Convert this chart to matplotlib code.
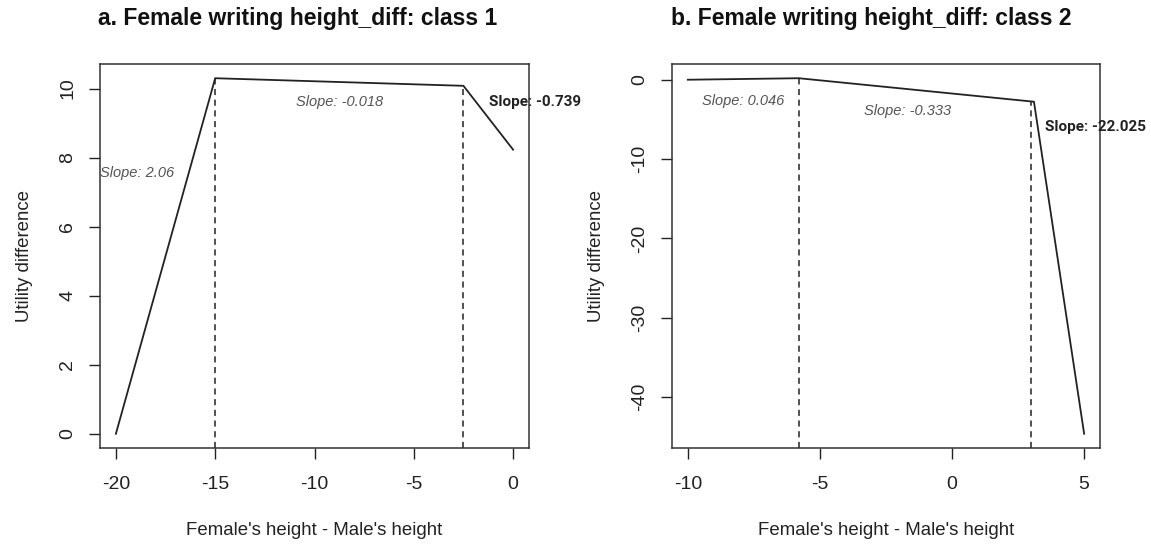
import matplotlib
matplotlib.use("Agg")
from matplotlib import pyplot as plt

plt.rcParams['font.family'] = ['Liberation Sans', 'DejaVu Sans']
plt.rcParams['axes.unicode_minus'] = False

# panel a: class 1
x_a = [-20, -15, -2.5, 0]
y_a = [0, 10.3, 10.08, 8.23]
knots_a = [-15, -2.5]
xticks_a = [-20, -15, -10, -5, 0]
yticks_a = [0, 2, 4, 6, 8, 10]

# panel b: class 2
x_b = [-10, -5.8, 3.1, 5]
y_b = [0, 0.19, -2.77, -44.6]
knots_b = [-5.8, 3.0]
xticks_b = [-10, -5, 0, 5]
yticks_b = [0, -10, -20, -30, -40]

titles = ["Female writing height_diff: class 1", "Female writing height_diff: class 2"]
letters = ["a.", "b."]


def r_limits(vals):
    lo, hi = min(vals), max(vals)
    pad = (hi - lo) * 0.04
    return lo - pad, hi + pad


def draw_panel(ax, xs, ys, knots, xticks, yticks):
    ax.plot(xs, ys, color='#222222', lw=1.3)
    ax.set_xlim(*r_limits(xs))
    ylo, yhi = r_limits(ys)
    ax.set_ylim(ylo, yhi)
    for k in knots:
        # height of the curve at the knot
        for i in range(len(xs) - 1):
            if xs[i] <= k <= xs[i + 1]:
                yk = ys[i] + (ys[i + 1] - ys[i]) * (k - xs[i]) / (xs[i + 1] - xs[i])
        ax.plot([k, k], [ylo, yk], color='#222222', lw=1.1, ls=(0, (4, 3)))
    ax.set_xticks(xticks)
    ax.set_yticks(yticks)
    ax.set_yticklabels([str(t) for t in yticks], rotation=90, va='center')
    ax.tick_params(axis='x', length=8, width=1, pad=12, labelsize=14, colors='#222222')
    ax.tick_params(axis='y', length=8, width=1, pad=9, labelsize=14, colors='#222222')
    for sp in ax.spines.values():
        sp.set_color('#333333')
        sp.set_linewidth(1.1)
    ax.set_xlabel("Female's height - Male's height", fontsize=13.4, color='#222222', labelpad=21)
    ax.set_ylabel("Utility difference", fontsize=13.4, color='#222222', labelpad=19)


fig = plt.figure(figsize=(11.51, 5.44), dpi=100)
ax1 = fig.add_axes([100 / 1151, 1 - 448 / 544, 429 / 1151, 384 / 544])
ax2 = fig.add_axes([672 / 1151, 1 - 448 / 544, 428 / 1151, 384 / 544])

draw_panel(ax1, x_a, y_a, knots_a, xticks_a, yticks_a)
draw_panel(ax2, x_b, y_b, knots_b, xticks_b, yticks_b)

note = dict(fontsize=10.5, style='italic', color='#555555')
bold = dict(fontsize=11, fontweight='bold', color='#222222', family=['Roboto', 'DejaVu Sans'], clip_on=False)

ax1.text(-20.8, 7.55, "Slope: 2.06", ha='left', va='center', **note)
ax1.text(-8.75, 9.6, "Slope: -0.018", ha='center', va='center', **note)
ax1.text(-1.2, 9.6, "Slope: -0.739", ha='left', va='center', **bold)

ax2.text(-7.9, -2.7, "Slope: 0.046", ha='center', va='center', **note)
ax2.text(-1.7, -3.9, "Slope: -0.333", ha='center', va='center', **note)
ax2.text(3.5, -5.9, "Slope: -22.025", ha='left', va='center', **bold)

fig.text(298 / 1151, 1 - 18 / 544, letters[0] + " " + titles[0], ha='center', va='center',
         fontsize=16.5, fontweight='bold', color='#111111')
fig.text(871 / 1151, 1 - 18 / 544, letters[1] + " " + titles[1], ha='center', va='center',
         fontsize=16.5, fontweight='bold', color='#111111')

fig.savefig("out.png", dpi=100)
